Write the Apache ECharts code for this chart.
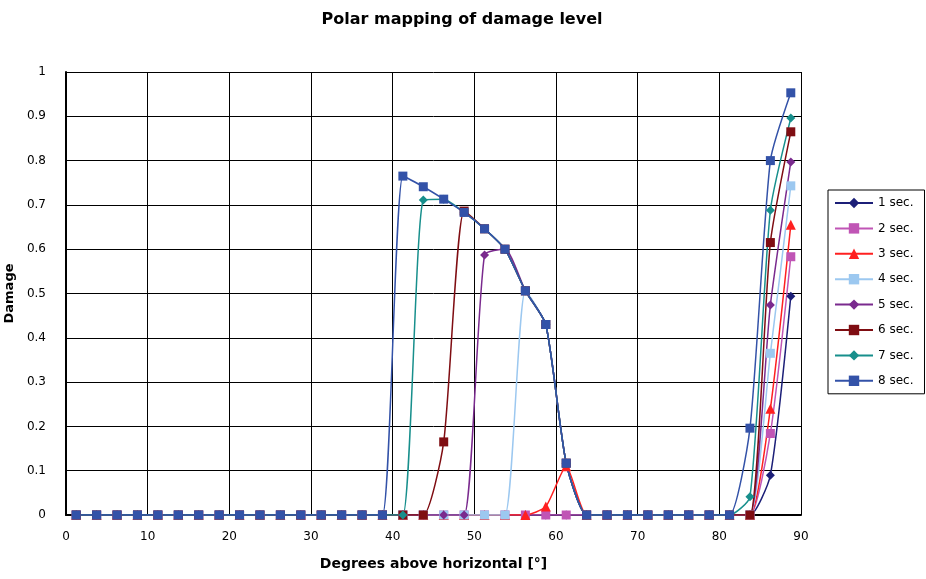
<!DOCTYPE html>
<html>
<head>
<meta charset="utf-8">
<script src="https://cdn.jsdelivr.net/npm/echarts@6/dist/echarts.min.js"></script>
<style>html,body{margin:0;padding:0;background:#fff}#c{width:926px;height:579px}</style>
</head>
<body>
<div id="c"></div>
<script>
var angles = [1.25,3.75,6.25,8.75,11.25,13.75,16.25,18.75,21.25,23.75,26.25,28.75,31.25,33.75,36.25,38.75,41.25,43.75,46.25,48.75,51.25,53.75,56.25,58.75,61.25,63.75,66.25,68.75,71.25,73.75,76.25,78.75,81.25,83.75,86.25,88.75];
var xTicks = [0,10,20,30,40,50,60,70,80,90];
var yTicks = [0,0.1,0.2,0.3,0.4,0.5,0.6,0.7,0.8,0.9,1];
var seriesNames = ['1 sec.','2 sec.','3 sec.','4 sec.','5 sec.','6 sec.','7 sec.','8 sec.'];
var sec1 = [0,0,0,0,0,0,0,0,0,0,0,0,0,0,0,0,0,0,0,0,0,0,0,0,0,0,0,0,0,0,0,0,0,0,0.090,0.494];
var sec2 = [0,0,0,0,0,0,0,0,0,0,0,0,0,0,0,0,0,0,0,0,0,0,0,0,0,0,0,0,0,0,0,0,0,0,0.184,0.583];
var sec3 = [0,0,0,0,0,0,0,0,0,0,0,0,0,0,0,0,0,0,0,0,0,0,0,0.019,0.110,0,0,0,0,0,0,0,0,0,0.240,0.655];
var sec4 = [0,0,0,0,0,0,0,0,0,0,0,0,0,0,0,0,0,0,0,0,0,0,0.506,0.430,0.117,0,0,0,0,0,0,0,0,0,0.365,0.743];
var sec5 = [0,0,0,0,0,0,0,0,0,0,0,0,0,0,0,0,0,0,0,0,0.587,0.600,0.506,0.430,0.117,0,0,0,0,0,0,0,0,0,0.474,0.797];
var sec6 = [0,0,0,0,0,0,0,0,0,0,0,0,0,0,0,0,0,0,0.165,0.686,0.646,0.600,0.506,0.430,0.117,0,0,0,0,0,0,0,0,0,0.615,0.865];
var sec7 = [0,0,0,0,0,0,0,0,0,0,0,0,0,0,0,0,0,0.711,0.713,0.683,0.646,0.600,0.506,0.430,0.117,0,0,0,0,0,0,0,0,0.041,0.688,0.896];
var sec8 = [0,0,0,0,0,0,0,0,0,0,0,0,0,0,0,0,0.765,0.741,0.713,0.683,0.646,0.600,0.506,0.430,0.117,0,0,0,0,0,0,0,0,0.196,0.800,0.953];
var allValues = [sec1,sec2,sec3,sec4,sec5,sec6,sec7,sec8];
var colors = ['#1c1f78','#c055b5','#ff2020','#9cc8f0','#7a2a8e','#7f0d12','#178f8c','#3352a8'];
var symbols = ['diamond','rect','triangle','rect','diamond','rect','diamond','rect'];

var series = allValues.map(function(vals, k){
  return {
    name: seriesNames[k],
    type: 'line',
    smooth: 0.2,
    data: vals.map(function(v,i){ return [angles[i], v]; }),
    symbol: symbols[k],
    symbolSize: symbols[k]==='triangle' ? 10 : 9,
    showAllSymbol: true,
    lineStyle: {color: colors[k], width: 1.5},
    itemStyle: {color: colors[k]},
    emphasis: {disabled: true},
    animation: false
  };
});

var chart = echarts.init(document.getElementById('c'), null, {renderer: 'canvas'});
chart.setOption({
  backgroundColor: '#fff',
  animation: false,
  color: colors,
  title: {
    text: 'Polar mapping of damage level',
    left: 457, top: 7, textAlign: 'center',
    textStyle: {fontFamily: 'DejaVu Sans', fontWeight: 'bold', fontSize: 16, color: '#000'}
  },
  legend: {
    orient: 'vertical',
    left: 828, top: 190,
    padding: [7, 11, 7, 6],
    itemGap: 13.4,
    itemWidth: 38, itemHeight: 13,
    borderColor: '#000', borderWidth: 1,
    textStyle: {fontFamily: 'DejaVu Sans', fontSize: 12, color: '#000'},
    data: seriesNames
  },
  grid: {left: 66, right: 125, top: 72, bottom: 64, containLabel: false, outerBoundsMode: 'none'},
  xAxis: {
    type: 'value', min: xTicks[0], max: xTicks[xTicks.length-1], interval: 10,
    name: 'Degrees above horizontal [°]',
    nameLocation: 'middle', nameGap: 42,
    nameTextStyle: {fontFamily: 'DejaVu Sans', fontWeight: 'bold', fontSize: 14, color: '#000'},
    axisLine: {lineStyle: {color: '#000', width: 2}},
    axisTick: {show: false},
    axisLabel: {fontFamily: 'DejaVu Sans', fontSize: 12, color: '#000', margin: 16},
    splitLine: {show: true, lineStyle: {color: '#000', width: 1}}
  },
  yAxis: {
    type: 'value', min: yTicks[0], max: yTicks[yTicks.length-1], interval: 0.1,
    name: 'Damage',
    nameLocation: 'middle', nameGap: 43, nameRotate: 90,
    nameTextStyle: {fontFamily: 'DejaVu Sans', fontWeight: 'bold', fontSize: 13, color: '#000'},
    axisLine: {lineStyle: {color: '#000', width: 2}},
    axisTick: {show: false},
    axisLabel: {fontFamily: 'DejaVu Sans', fontSize: 12, color: '#000', margin: 20},
    splitLine: {show: true, lineStyle: {color: '#000', width: 1}}
  },
  series: series
});
</script>
</body>
</html>
